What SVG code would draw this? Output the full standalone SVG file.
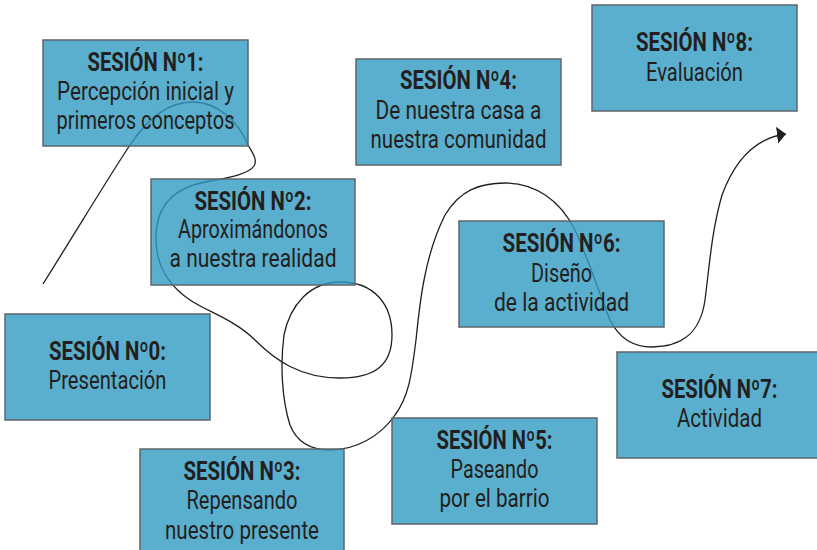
<svg xmlns="http://www.w3.org/2000/svg" width="817" height="550" viewBox="0 0 817 550">
<style>
.box{fill:#329BC2;fill-opacity:0.8;stroke:#5E666B;stroke-width:1.5}
.t{font-family:Roboto,"Liberation Sans",sans-serif;font-size:26px;fill:#231F20;text-anchor:middle}
.b{font-weight:bold}
.line{fill:none;stroke:#231F20;stroke-width:1.3}
</style>
<defs>
<marker id="ah" markerUnits="userSpaceOnUse" markerWidth="12" markerHeight="20" refX="9" refY="8.5" orient="auto" viewBox="0 0 12 20">
<path d="M0,0 L9,8.5 L0,17 z" fill="#231F20"/>
</marker>
</defs>
<rect width="817" height="550" fill="#fff"/>
<g id="connectors">
<path class="line" marker-end="url(#ah)" d="M43 284 C80 225,110 175,130 145 C150 115,170 102,192 102 C220 102,240 125,248 145 C252 152,258 160,254 166 C248 175,225 178,205 182 C175 188,157 205,156 235 C155 260,165 283,190 300 C208 312,235 320,255 340 C275 360,300 378,340 378 C375 378,392 365,392 335 C392 305,375 282,340 282 C310 282,290 305,284 335 C280 365,282 400,290 425 C298 445,315 450,330 450 C355 450,380 437,395 415 C410 395,412 370,416 340 C420 300,425 255,445 215 C460 190,480 183,505 183 C535 183,560 200,575 230 C588 258,598 290,610 320 C620 340,635 347,652 347 C680 347,700 335,705 300 C710 260,712 230,722 195 C735 160,755 138,786 134"/>
</g>
<g id="s1">
<rect class="box" x="43" y="40" width="205" height="106"/>
<text class="t b" x="145.5" y="71" textLength="116" lengthAdjust="spacingAndGlyphs">SESIÓN Nº1:</text>
<text class="t" x="145.5" y="100" textLength="177" lengthAdjust="spacingAndGlyphs">Percepción inicial y</text>
<text class="t" x="145.5" y="129" textLength="178" lengthAdjust="spacingAndGlyphs">primeros conceptos</text>
</g>
<g id="s2">
<rect class="box" x="151" y="179" width="204" height="106"/>
<text class="t b" x="253" y="210" textLength="117" lengthAdjust="spacingAndGlyphs">SESIÓN Nº2:</text>
<text class="t" x="253" y="238" textLength="150" lengthAdjust="spacingAndGlyphs">Aproximándonos</text>
<text class="t" x="253" y="267" textLength="167" lengthAdjust="spacingAndGlyphs">a nuestra realidad</text>
</g>
<g id="s4">
<rect class="box" x="356" y="59" width="205" height="106"/>
<text class="t b" x="458.5" y="89" textLength="117" lengthAdjust="spacingAndGlyphs">SESIÓN Nº4:</text>
<text class="t" x="458.5" y="119" textLength="166" lengthAdjust="spacingAndGlyphs">De nuestra casa a</text>
<text class="t" x="458.5" y="148" textLength="176" lengthAdjust="spacingAndGlyphs">nuestra comunidad</text>
</g>
<g id="s8">
<rect class="box" x="592" y="5" width="205" height="106"/>
<text class="t b" x="694.5" y="51" textLength="117" lengthAdjust="spacingAndGlyphs">SESIÓN Nº8:</text>
<text class="t" x="694.5" y="81" textLength="97" lengthAdjust="spacingAndGlyphs">Evaluación</text>
</g>
<g id="s6">
<rect class="box" x="459" y="221" width="205" height="106"/>
<text class="t b" x="561.5" y="252" textLength="118" lengthAdjust="spacingAndGlyphs">SESIÓN Nº6:</text>
<text class="t" x="561.5" y="282" textLength="61" lengthAdjust="spacingAndGlyphs">Diseño</text>
<text class="t" x="561.5" y="311" textLength="135" lengthAdjust="spacingAndGlyphs">de la actividad</text>
</g>
<g id="s0">
<rect class="box" x="5" y="314" width="205" height="106"/>
<text class="t b" x="107.5" y="360" textLength="117" lengthAdjust="spacingAndGlyphs">SESIÓN Nº0:</text>
<text class="t" x="107.5" y="389" textLength="118" lengthAdjust="spacingAndGlyphs">Presentación</text>
</g>
<g id="s3">
<rect class="box" x="140" y="449" width="204" height="106"/>
<text class="t b" x="242" y="480" textLength="117" lengthAdjust="spacingAndGlyphs">SESIÓN Nº3:</text>
<text class="t" x="242" y="509" textLength="111" lengthAdjust="spacingAndGlyphs">Repensando</text>
<text class="t" x="242" y="539" textLength="154" lengthAdjust="spacingAndGlyphs">nuestro presente</text>
</g>
<g id="s5">
<rect class="box" x="392" y="418" width="205" height="106"/>
<text class="t b" x="494.5" y="449" textLength="116" lengthAdjust="spacingAndGlyphs">SESIÓN Nº5:</text>
<text class="t" x="494.5" y="478" textLength="88" lengthAdjust="spacingAndGlyphs">Paseando</text>
<text class="t" x="494.5" y="507" textLength="110" lengthAdjust="spacingAndGlyphs">por el barrio</text>
</g>
<g id="s7">
<rect class="box" x="617" y="352" width="205" height="106"/>
<text class="t b" x="719.5" y="398" textLength="116" lengthAdjust="spacingAndGlyphs">SESIÓN Nº7:</text>
<text class="t" x="719.5" y="427" textLength="85" lengthAdjust="spacingAndGlyphs">Actividad</text>
</g>
</svg>
